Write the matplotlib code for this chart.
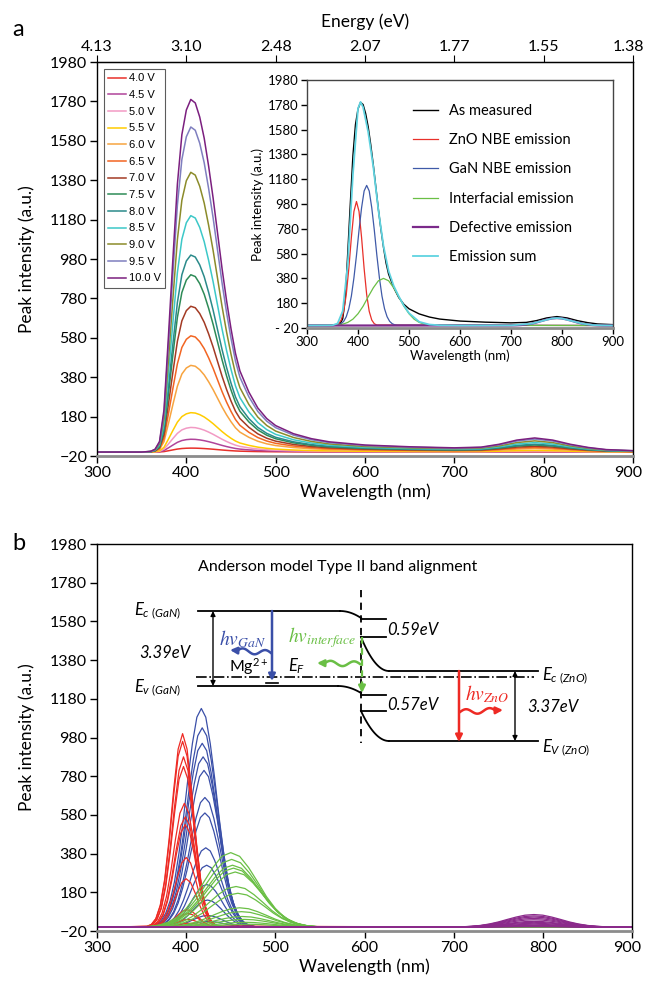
import numpy as np
import matplotlib
matplotlib.use('Agg')
import matplotlib.pyplot as plt
from matplotlib.transforms import ScaledTranslation

plt.rcParams['font.family'] = ['Lato', 'DejaVu Sans']
plt.rcParams['mathtext.fontset'] = 'custom'
plt.rcParams['mathtext.it'] = 'Lato:italic'
plt.rcParams['mathtext.rm'] = 'Lato'

# ---------------- data ----------------
voltages = ['4.0 V', '4.5 V', '5.0 V', '5.5 V', '6.0 V', '6.5 V', '7.0 V',
            '7.5 V', '8.0 V', '8.5 V', '9.0 V', '9.5 V', '10.0 V']
colors_a = ['#e8302a', '#b0449a', '#f29ac4', '#ffcc00', '#f7a440', '#f26522',
            '#a33a24', '#2e8b57', '#2b8a8a', '#3cc8c8', '#8b8b2a', '#7f7fbf', '#7b1f7f']

# normalised EL line shape
wl_a = [300, 350, 360, 365, 370, 375, 380, 385, 390, 395, 400, 405, 410, 415, 420,
        425, 430, 435, 440, 445, 450, 455, 460, 470, 480, 490, 500, 520, 540, 560,
        600, 650, 700, 730, 750, 770, 790, 810, 830, 850, 870, 900]
profile_a = [0, 0, 0.002, 0.008, 0.03, 0.12, 0.33, 0.55, 0.76, 0.9, 0.97, 1.0, 0.99,
             0.95, 0.89, 0.81, 0.72, 0.62, 0.52, 0.43, 0.35, 0.28, 0.23, 0.17, 0.125,
             0.095, 0.075, 0.052, 0.038, 0.029, 0.02, 0.015, 0.012, 0.014, 0.022, 0.034,
             0.04, 0.034, 0.022, 0.013, 0.007, 0.004]
peak_a = [20, 65, 125, 200, 440, 590, 740, 900, 1000, 1200, 1420, 1650, 1790]

energy_labels = ['4.13', '3.10', '2.48', '2.07', '1.77', '1.55', '1.38']

# inset: emission sum read from the fit
wl_sum = [300, 350, 360, 370, 380, 390, 400, 405, 410, 420, 430, 440, 450, 460, 470,
          480, 490, 500, 520, 540, 560, 600, 700, 740, 760, 780, 790, 800, 820, 840,
          860, 880, 900]
val_sum = [0, 2, 17, 116, 498, 1214, 1750, 1803, 1760, 1560, 1280, 930, 640, 440, 320,
           235, 160, 100, 30, 8, 2, 0, 1, 15, 36, 57, 60, 57, 36, 15, 4, 1, 0]

# fitted component shapes (normalised, offsets in nm from centre)
zno_off = [-40, -35, -30, -25, -20, -15, -10, -5, 0, 5, 10, 15, 20, 25, 30, 35, 40]
zno_shape = [0.004, 0.014, 0.044, 0.114, 0.25, 0.46, 0.71, 0.92, 1.0,
             0.92, 0.71, 0.46, 0.25, 0.114, 0.044, 0.014, 0.004]
gan_off = [-60, -55, -50, -45, -40, -35, -30, -25, -20, -15, -10, -5, 0,
           5, 10, 15, 20, 25, 30, 35, 40, 45, 50, 55, 60]
gan_shape = [0.002, 0.005, 0.013, 0.03, 0.063, 0.12, 0.21, 0.34, 0.5, 0.68, 0.84, 0.96, 1.0,
             0.96, 0.84, 0.68, 0.5, 0.34, 0.21, 0.12, 0.063, 0.03, 0.013, 0.005, 0.002]
int_off = [-100, -90, -80, -70, -60, -50, -40, -30, -20, -10, 0,
           10, 20, 30, 40, 50, 60, 70, 80, 90, 100]
int_shape = [0.004, 0.011, 0.029, 0.066, 0.135, 0.25, 0.41, 0.61, 0.8, 0.95, 1.0,
             0.95, 0.8, 0.61, 0.41, 0.25, 0.135, 0.066, 0.029, 0.011, 0.004]

# inset components (10 V)
inset_zno = (397, 1000)
inset_gan = (417, 1130)
inset_int = (450, 380)
inset_def = (790, 60)
inset_scale = 1800

# panel b: centre / height for each voltage
red_c = [403, 402, 402, 401, 400, 400, 399, 399, 398, 397, 397, 396, 396]
red_h = [20, 40, 70, 90, 250, 360, 530, 570, 640, 830, 880, 960, 1000]
blue_c = [425, 424, 424, 423, 423, 422, 421, 421, 420, 419, 418, 418, 417]
blue_h = [30, 60, 140, 220, 320, 410, 590, 670, 810, 880, 950, 1030, 1130]
green_c = [468, 466, 465, 463, 462, 460, 458, 456, 455, 453, 452, 451, 450]
green_h = [15, 25, 40, 55, 80, 100, 175, 210, 285, 305, 320, 350, 385]
purple_h = [2, 5, 8, 10, 15, 20, 25, 30, 38, 45, 52, 58, 65]
purple_c = 790

C_RED, C_BLUE, C_GREEN, C_PURPLE = '#ee2a24', '#3a4fa8', '#6abf45', '#8b2a8b'

yticks = list(range(-20, 1981, 200))
xticks = list(range(300, 901, 100))


def component(center, height, offs, shape):
    x = [300] + [center + o for o in offs] + [900]
    y = [0] + [height * s for s in shape] + [0]
    return x, y


def style(ax, fs, ylabels=None):
    ax.set_xlim(300, 900)
    ax.set_ylim(-20, 1980)
    ax.set_xticks(xticks)
    ax.set_yticks(yticks)
    if ylabels is not None:
        ax.set_yticklabels(ylabels)
    ax.tick_params(direction='out', length=5, width=1, labelsize=fs, pad=2)
    for s in ax.spines.values():
        s.set_linewidth(1)
    ax.spines['bottom'].set_color('#8c8c8c')
    ax.spines['bottom'].set_linewidth(2)


def nudge_last(labels, fig, dx):
    lab = labels[-1]
    lab.set_transform(lab.get_transform() + ScaledTranslation(dx / 100, 0, fig.dpi_scale_trans))


fig = plt.figure(figsize=(6.45, 9.88), dpi=100)
W, H = 645, 988

# ---------------- panel a ----------------
ax_a = fig.add_axes([97 / W, 1 - 456 / H, 536 / W, 394 / H])
prof = np.array(profile_a)
for v, h, c in zip(voltages, peak_a, colors_a):
    ax_a.plot(wl_a, prof * h, color=c, lw=1.1, label=v)
style(ax_a, 11.5)
ax_a.set_xlabel('Wavelength (nm)', fontsize=12.5, labelpad=3)
ax_a.set_ylabel('Peak intensity (a.u.)', fontsize=12.5, labelpad=11)
nudge_last(ax_a.get_xticklabels(), fig, -5)

top = ax_a.secondary_xaxis('top')
top.set_xticks(xticks, labels=energy_labels)
top.tick_params(direction='out', length=5, labelsize=11.5, pad=1)
top.set_xlabel('Energy (eV)', fontsize=12.5, labelpad=9)
nudge_last(top.get_xticklabels(), fig, -5)

leg = ax_a.legend(loc='upper left', bbox_to_anchor=(104 / W, 1 - 69 / H),
                  bbox_transform=fig.transFigure, prop={'family': 'Liberation Sans', 'size': 8},
                  fancybox=False, edgecolor='#333333', handlelength=1.6, handletextpad=0.25,
                  labelspacing=0.6, borderpad=0.4, borderaxespad=0)
leg.get_frame().set_linewidth(0.8)

# inset
ax_in = fig.add_axes([307 / W, 1 - 328 / H, 306 / W, 248 / H])
ax_in.plot(wl_a, prof * inset_scale, color='black', lw=1.0, label='As measured')
ax_in.plot(*component(*inset_zno, zno_off, zno_shape), color='#e8302a', lw=0.9, label='ZnO NBE emission')
ax_in.plot(*component(*inset_gan, gan_off, gan_shape), color='#3f5aa8', lw=0.9, label='GaN NBE emission')
ax_in.plot(*component(*inset_int, int_off, int_shape), color='#6abf45', lw=0.9, label='Interfacial emission')
ax_in.plot(*component(*inset_def, int_off, int_shape), color='#7b2a8a', lw=1.6, label='Defective emission')
ax_in.plot(wl_sum, val_sum, color='#5fd3e0', lw=1.3, label='Emission sum')
style(ax_in, 9.5, ['- 20'] + [str(t) for t in yticks[1:]])
ax_in.tick_params(length=4)
ax_in.set_xlabel('Wavelength (nm)', fontsize=9.5, labelpad=1)
ax_in.set_ylabel('Peak intensity (a.u.)', fontsize=9.5, labelpad=3)
for s in ['top', 'right', 'left']:
    ax_in.spines[s].set_color('#444444')
ax_in.legend(loc='upper left', bbox_to_anchor=(407 / W, 1 - 98 / H), bbox_transform=fig.transFigure,
             frameon=False, fontsize=10.5, handlelength=1.75, handletextpad=0.75,
             labelspacing=1.05, borderaxespad=0)

fig.text(12 / W, 1 - 30 / H, 'a', fontsize=17, va='center')
fig.text(12 / W, 1 - 543 / H, 'b', fontsize=17, va='center')

# ---------------- panel b ----------------
ax_b = fig.add_axes([97 / W, 1 - 931 / H, 535 / W, 387 / H])
for c, h in zip(blue_c, blue_h):
    ax_b.plot(*component(c, h, gan_off, gan_shape), color=C_BLUE, lw=0.9)
for c, h in zip(red_c, red_h):
    ax_b.plot(*component(c, h, zno_off, zno_shape), color=C_RED, lw=0.9)
for c, h in zip(green_c, green_h):
    ax_b.plot(*component(c, h, int_off, int_shape), color=C_GREEN, lw=0.9)
for h in purple_h:
    ax_b.plot(*component(purple_c, h, int_off, int_shape), color=C_PURPLE, lw=0.9)
style(ax_b, 11.5)
ax_b.set_xlabel('Wavelength (nm)', fontsize=12.5, labelpad=3)
ax_b.set_ylabel('Peak intensity (a.u.)', fontsize=12.5, labelpad=11)
nudge_last(ax_b.get_xticklabels(), fig, -5)

# ---------------- band diagram (pixel overlay) ----------------
ov = fig.add_axes([0, 0, 1, 1], zorder=5)
ov.set_xlim(0, W)
ov.set_ylim(H, 0)
ov.axis('off')
ov.patch.set_alpha(0)

k = dict(color='black', lw=1.3)
t = np.linspace(0, 1, 40)
# GaN side
ov.plot([198, 340], [611, 611], **k)
ov.plot(340 + 21 * t, 611 + 7 * t ** 2, **k)
ov.plot([198, 338], [686, 686], **k)
ov.plot(338 + 23 * t, 686 + 7 * t ** 2, **k)
# ZnO side
ov.plot(361 + 28 * t, 637 + 34 * (1 - (1 - t) ** 2), **k)
ov.plot([389, 538], [671, 671], **k)
ov.plot(361 + 28 * t, 711 + 30 * (1 - (1 - t) ** 2), **k)
ov.plot([389, 538], [741, 741], **k)
# offsets
for yy in [619, 637, 695, 711]:
    ov.plot([361, 386], [yy, yy], **k)
ov.plot([361, 361], [590, 743], color='black', lw=1.3, ls=(0, (4, 3)))
ov.plot([196, 534], [677, 677], color='black', lw=1.2, ls='-.')


def arrow(x0, y0, x1, y1, color, lw=1.8, style='-|>', ms=10):
    ov.annotate('', xy=(x1, y1), xytext=(x0, y0),
                arrowprops=dict(arrowstyle=style, color=color, lw=lw, shrinkA=0, shrinkB=0,
                                mutation_scale=ms))


def wavy(x0, y0, x1, y1, color):
    s = np.linspace(0, 0.82, 80)
    x = x0 + (x1 - x0) * s
    y = y0 + (y1 - y0) * s - 2.5 * np.sin(2 * np.pi * 1.5 * s / 0.82)
    ov.plot(x, y, color=color, lw=1.8)
    arrow(x[-1], y[-1], x1, y1, color)


arrow(213, 611, 213, 686, 'black', lw=1.0, style='<|-|>', ms=7)
arrow(515, 671, 515, 741, 'black', lw=1.0, style='<|-|>', ms=7)

arrow(272, 611, 272, 681, C_BLUE)
ov.plot([266, 278], [683, 683], color='black', lw=1.2)
wavy(271, 653, 230, 650, C_BLUE)

ov.plot([362, 362], [637, 684], color=C_GREEN, lw=1.6, ls=(0, (3, 2)))
arrow(362, 683, 362, 693, C_GREEN)
wavy(360, 664, 317, 663, C_GREEN)

arrow(459, 671, 459, 742, C_RED)
wavy(460, 712, 503, 710, C_RED)

ov.text(338, 567, 'Anderson model Type II band alignment', fontsize=11.5, ha='center', va='center')
ov.text(134, 611, r'$E_{c\ (GaN)}$', fontsize=12, va='center')
ov.text(134, 688, r'$E_{v\ (GaN)}$', fontsize=12, va='center')
ov.text(542, 676, r'$E_{c\ (ZnO)}$', fontsize=12, va='center')
ov.text(542, 748, r'$E_{V\ (ZnO)}$', fontsize=12, va='center')
ov.text(387, 630, '0.59eV', fontsize=12, style='italic', va='center')
ov.text(387, 705, '0.57eV', fontsize=12, style='italic', va='center')
ov.text(165, 653, '3.39eV', fontsize=12, style='italic', va='center', ha='center')
ov.text(553, 707, '3.37eV', fontsize=12, style='italic', va='center', ha='center')
ov.text(249, 667, r'Mg$^{2+}$', fontsize=11.5, va='center', ha='center')
ov.text(297, 666, r'$E_F$', fontsize=12, va='center', ha='center')
ov.text(243, 639, r'$hv_{GaN}$', math_fontfamily='stix', fontsize=14, color=C_BLUE,
        ha='center', va='center')
ov.text(322, 638, r'$hv_{interface}$', math_fontfamily='stix', fontsize=14, color=C_GREEN,
        ha='center', va='center')
ov.text(487, 694, r'$hv_{ZnO}$', math_fontfamily='stix', fontsize=14, color=C_RED,
        ha='center', va='center')

fig.savefig('out.png', dpi=100)
